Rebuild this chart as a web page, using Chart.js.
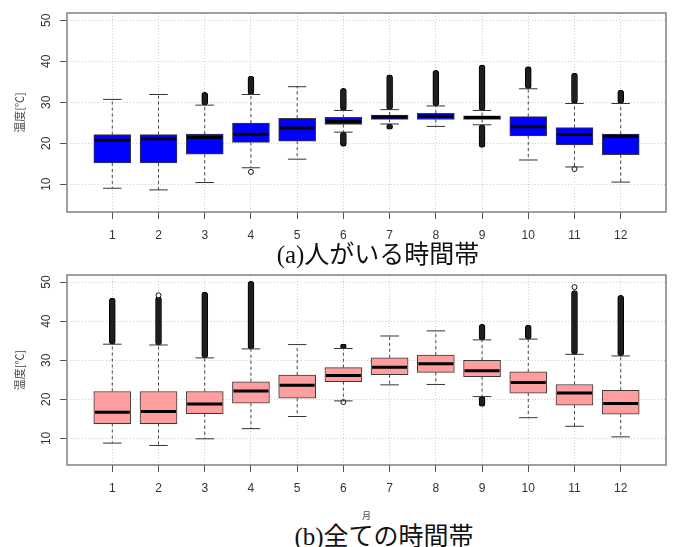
<!DOCTYPE html>
<html>
<head>
<meta charset="utf-8">
<script src="https://cdn.jsdelivr.net/npm/chart.js@4.4.1/dist/chart.umd.min.js"></script>
<style>
body { margin: 0; background: #fff; width: 673px; height: 547px; position: relative; overflow: hidden; }
canvas { position: absolute; left: 0; }
#ca { top: 0; }
#cb { top: 262px; }
.cap { position: absolute; font-family: "Liberation Serif", "Noto Sans CJK JP", serif; font-size: 25px;
       line-height: 25px; white-space: nowrap; color: #111; transform: translateX(-50%); }
</style>
</head>
<body>
<canvas id="ca" width="673" height="250"></canvas>
<canvas id="cb" width="673" height="260"></canvas>
<div class="cap" style="left:378px; top:242px">(a)人がいる時間帯</div>
<div class="cap" style="left:384px; top:524px">(b)全ての時間帯</div>
<script>
// 月
const months = [1, 2, 3, 4, 5, 6, 7, 8, 9, 10, 11, 12];
const yTicks = [10, 20, 30, 40, 50];

// (a) 人がいる時間帯
const aLow  = [9.0, 8.6, 10.4, 14.0, 16.1, 22.7, 24.7, 24.1, 24.5, 15.9, 14.2, 10.5];
const aQ1   = [15.2, 15.2, 17.3, 20.2, 20.5, 24.6, 25.8, 25.8, 25.8, 21.8, 19.6, 17.2];
const aMed  = [20.7, 21.1, 21.4, 22.2, 23.7, 25.3, 26.4, 26.6, 26.3, 24.0, 22.1, 21.7];
const aQ3   = [22.1, 22.1, 22.2, 24.9, 26.1, 26.3, 26.9, 27.3, 26.7, 26.5, 23.8, 22.2];
const aHigh = [30.7, 31.9, 29.3, 31.9, 33.8, 28.0, 28.2, 29.1, 28.0, 33.3, 29.7, 29.7];
const aOutHigh = [null, null, [29.3, 32.4], [31.9, 36.4], null, [28.0, 33.4], [28.2, 36.7],
                  [29.1, 37.8], [28.0, 39.1], [33.3, 38.7], [29.7, 37.1], [29.7, 33.0]];
const aOutLow = [null, null, null, null, null, [19.2, 22.7], [23.4, 24.7], null, [19.0, 24.5], null, null, null];
const aOutPts = [null, null, null, 13.0, null, null, null, null, null, null, 13.7, null];

// (b) 全ての時間帯
const bLow  = [8.8, 8.2, 9.9, 12.5, 15.6, 19.6, 23.7, 23.8, 20.7, 15.3, 13.1, 10.4];
const bQ1   = [13.8, 13.8, 16.3, 19.0, 20.3, 24.5, 26.3, 26.9, 25.8, 21.6, 18.5, 16.2];
const bMed  = [16.7, 16.9, 18.8, 22.1, 23.6, 26.1, 28.2, 29.1, 27.3, 24.3, 21.6, 18.9];
const bQ3   = [22.0, 22.0, 22.0, 24.5, 26.2, 28.1, 30.6, 31.3, 30.0, 27.0, 23.8, 22.3];
const bHigh = [34.1, 33.9, 30.6, 32.9, 34.0, 33.0, 36.2, 37.5, 35.2, 35.4, 31.5, 31.1];
const bOutHigh = [[34.1, 45.9], [33.9, 46.2], [30.6, 47.4], [32.9, 50.2], null, [33.0, 34.1], null,
                  null, [35.2, 39.2], [35.4, 39.0], [31.5, 47.8], [31.1, 46.6]];
const bOutLow = [null, null, null, null, null, null, null, null, [18.2, 20.7], null, null, null];
const bOutPts = [null, 46.6, null, null, null, 19.3, null, null, null, null, 48.7, null];

const BOX_W = 37;
const TICK_FONT = '12px "Liberation Sans"';

// ひげ・中央値・枠・縦書きの目盛
const boxParts = {
  id: 'boxParts',
  afterDatasetsDraw(chart, args, o) {
    const { ctx, scales: { x, y } } = chart;
    const half = BOX_W / 2, cap = BOX_W / 4;
    ctx.save();
    o.med.forEach((m, i) => {
      const px = x.getPixelForValue(months[i]);
      const pHi = y.getPixelForValue(o.high[i]), pLo = y.getPixelForValue(o.low[i]);
      ctx.setLineDash([3, 3]);
      ctx.strokeStyle = '#444';
      ctx.lineWidth = 1;
      ctx.beginPath();
      ctx.moveTo(px, y.getPixelForValue(o.q3[i])); ctx.lineTo(px, pHi);
      ctx.moveTo(px, y.getPixelForValue(o.q1[i])); ctx.lineTo(px, pLo);
      ctx.stroke();
      ctx.setLineDash([]);
      ctx.strokeStyle = '#333';
      ctx.beginPath();
      ctx.moveTo(px - cap, pHi); ctx.lineTo(px + cap, pHi);
      ctx.moveTo(px - cap, pLo); ctx.lineTo(px + cap, pLo);
      ctx.stroke();
      const pm = y.getPixelForValue(m);
      ctx.strokeStyle = '#000';
      ctx.lineWidth = 3;
      ctx.beginPath();
      ctx.moveTo(px - half + 1, pm); ctx.lineTo(px + half - 1, pm);
      ctx.stroke();
    });
    ctx.restore();
  },
  afterDraw(chart) {
    const { ctx, chartArea: a, scales: { y } } = chart;
    ctx.save();
    ctx.strokeStyle = '#808080';
    ctx.lineWidth = 1.5;
    ctx.strokeRect(a.left, a.top, a.right - a.left, a.bottom - a.top);
    ctx.fillStyle = '#333';
    ctx.font = TICK_FONT;
    ctx.textAlign = 'center';
    ctx.textBaseline = 'middle';
    y.ticks.forEach(t => {
      ctx.save();
      ctx.translate(a.left - 20, y.getPixelForValue(t.value));
      ctx.rotate(-Math.PI / 2);
      ctx.fillText(String(t.value), 0, 0);
      ctx.restore();
    });
    ctx.restore();
  }
};

function ranges(arr) {
  return arr.map((r, i) => r ? { x: months[i], y: r } : null).filter(Boolean);
}

function makeChart(id, d) {
  const gridOpts = { color: '#cfcfcf', lineWidth: 1, offset: false, tickLength: 7,
                     tickColor: '#555', tickWidth: 1, tickBorderDash: [] };
  new Chart(document.getElementById(id), {
    type: 'bar',
    data: {
      datasets: [
        {
          type: 'scatter',
          data: d.pts.map((v, i) => v == null ? null : { x: months[i], y: v }).filter(Boolean),
          pointRadius: 2.5, pointBackgroundColor: '#fff', pointBorderColor: '#111', pointBorderWidth: 1
        },
        {
          data: ranges(d.outHigh).concat(ranges(d.outLow)),
          grouped: false, barThickness: 6, backgroundColor: '#1e1e1e', borderColor: '#000',
          borderWidth: 1, borderRadius: 3, borderSkipped: false
        },
        {
          data: months.map((m, i) => ({ x: m, y: [d.q1[i], d.q3[i]] })),
          grouped: false, barThickness: BOX_W, backgroundColor: d.fill, borderColor: '#3a3a3a',
          borderWidth: 1, borderSkipped: false
        }
      ]
    },
    options: {
      responsive: false, animation: false, devicePixelRatio: 1,
      layout: { padding: { top: 13, right: 7, left: 0, bottom: 0 } },
      plugins: {
        legend: { display: false }, tooltip: { enabled: false },
        boxParts: { low: d.low, q1: d.q1, med: d.med, q3: d.q3, high: d.high }
      },
      scales: {
        x: {
          type: 'linear', min: 0.02, max: 12.98, offset: false, z: 1,
          afterBuildTicks: s => { s.ticks = months.map(v => ({ value: v })); },
          afterFit: s => { s.height = d.xHeight; },
          grid: gridOpts,
          border: { display: false, dash: [1, 2] },
          ticks: { color: '#333', font: { family: 'Liberation Sans', size: 12 }, padding: 9,
                   autoSkip: false, maxRotation: 0 },
          title: { display: !!d.xTitle, text: d.xTitle || '', color: '#444',
                   font: { family: 'Noto Sans CJK JP', size: 9 }, padding: { top: 0, bottom: 1 } }
        },
        y: {
          min: 3.2, max: 51.8, z: 1,
          afterBuildTicks: s => { s.ticks = yTicks.map(v => ({ value: v })); },
          afterFit: s => { s.width = 67; },
          grid: gridOpts,
          border: { display: false, dash: [1, 2] },
          ticks: { display: false },
          title: { display: true, text: '温度[℃]', color: '#444',
                   font: { family: 'Noto Sans CJK JP', size: 11 }, padding: { top: 13, bottom: 0 } }
        }
      }
    },
    plugins: [boxParts]
  });
}

makeChart('ca', { low: aLow, q1: aQ1, med: aMed, q3: aQ3, high: aHigh, outHigh: aOutHigh,
                  outLow: aOutLow, pts: aOutPts, fill: '#0000ff', xHeight: 38 });
makeChart('cb', { low: bLow, q1: bQ1, med: bMed, q3: bQ3, high: bHigh, outHigh: bOutHigh,
                  outLow: bOutLow, pts: bOutPts, fill: '#ff9e9e', xHeight: 57, xTitle: '月' });
</script>
</body>
</html>
